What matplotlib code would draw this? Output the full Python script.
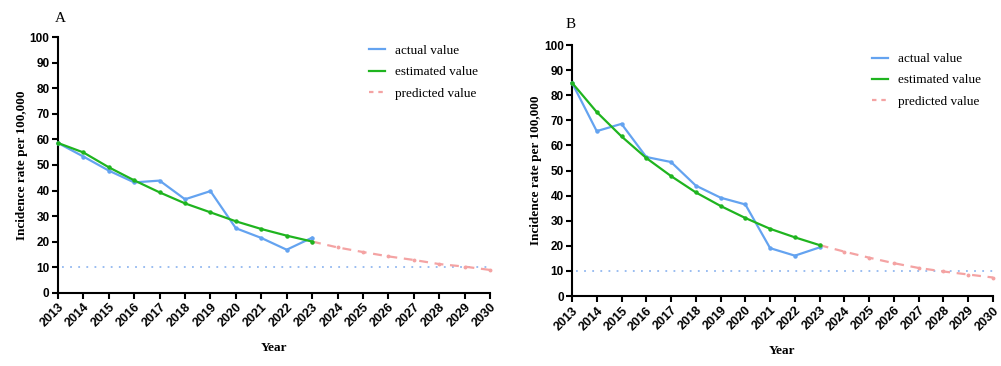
import matplotlib
matplotlib.use("Agg")
import matplotlib.pyplot as plt
import numpy as np

years = list(range(2013, 2031))
obs_years = list(range(2013, 2024))
pred_years = list(range(2023, 2031))

a_actual = [58.6, 53.3, 47.8, 43.2, 43.9, 36.6, 39.8, 25.3, 21.5, 16.9, 21.6]
a_estimated = [58.6, 54.9, 49.1, 44.0, 39.3, 35.0, 31.5, 28.0, 25.0, 22.4, 20.1]
a_predicted = [20.1, 17.8, 16.0, 14.3, 12.9, 11.3, 10.3, 9.0]

b_actual = [85.0, 65.7, 68.6, 55.4, 53.4, 44.0, 39.2, 36.5, 19.1, 16.1, 19.4]
b_estimated = [85.0, 73.3, 63.6, 55.0, 47.8, 41.3, 35.9, 31.1, 26.8, 23.4, 20.3]
b_predicted = [20.3, 17.7, 15.3, 13.1, 11.2, 9.8, 8.6, 7.4]

target = 10
legend_labels = ["actual value", "estimated value", "predicted value"]

BLUE = "#64a3f0"
GREEN = "#1fb41f"
PINK = "#f4a3a3"
DOT = "#92b8f0"

fig = plt.figure(figsize=(10.01, 3.66), dpi=100)
axA = fig.add_axes([0.0579, 0.1995, 0.4316, 0.6994])
axB = fig.add_axes([0.5714, 0.191, 0.4206, 0.686])

serif = "Liberation Serif"
sans = "Liberation Sans"

def draw(ax, actual, est, pred, letter, lpos):
    ax.plot(obs_years, actual, color=BLUE, lw=1.6, marker="o", ms=2.2,
            label=legend_labels[0], clip_on=False, zorder=3)
    ax.plot(obs_years, est, color=GREEN, lw=1.6, marker="o", ms=2.2,
            label=legend_labels[1], clip_on=False, zorder=4)
    ax.plot(pred_years, pred, color=PINK, lw=1.6, ls=(0, (4, 3)), marker="o", ms=1.8,
            label=legend_labels[2], clip_on=False, zorder=3)
    ax.plot([2013.15, 2030], [target, target], color=DOT, lw=1.3, ls=(0, (1, 3.5)), zorder=2)
    ax.set_xlim(2013, 2030)
    ax.set_ylim(0, 100)
    ax.set_xticks(years)
    ax.set_yticks(range(0, 101, 10))
    ax.set_xticklabels([str(y) for y in years], rotation=45, ha="right",
                       rotation_mode="anchor", fontfamily=sans, fontweight="bold", fontsize=9)
    ax.set_yticklabels([str(v) for v in range(0, 101, 10)], fontfamily=sans,
                       fontweight="bold", fontsize=8.5)
    for s in ["top", "right"]:
        ax.spines[s].set_visible(False)
    for s in ["left", "bottom"]:
        ax.spines[s].set_linewidth(1.5)
    ax.tick_params(axis="both", width=1.5, length=4, direction="out", pad=2)
    ax.set_xlabel("Year", fontfamily=serif, fontweight="bold", fontsize=9.5, labelpad=9)
    ax.set_ylabel("Incidence rate per 100,000", fontfamily=serif, fontweight="bold",
                  fontsize=9.5, labelpad=1)
    leg = ax.legend(loc="upper right", bbox_to_anchor=(1.0, 1.0 + 4 / 256), frameon=False,
                    prop={"family": serif, "size": 9.5}, handlelength=1.2,
                    handletextpad=0.8, labelspacing=0.68)
    for i, h in enumerate(leg.legend_handles):
        h.set_marker("")
        if i == 2:
            h.set_linestyle((0, (2.0, 2.2)))
    fig.text(lpos[0], lpos[1], letter, fontfamily=serif, fontsize=11, ha="left", va="center")

draw(axA, a_actual, a_estimated, a_predicted, "A", (55 / 1001, 1 - 18 / 366))
draw(axB, b_actual, b_estimated, b_predicted, "B", (566 / 1001, 1 - 25 / 366))

fig.savefig("out.png", dpi=100)
